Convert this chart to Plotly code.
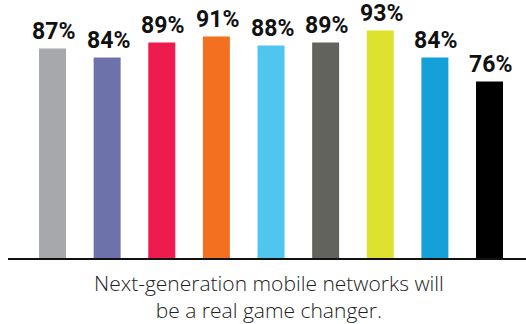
import plotly.graph_objects as go

categories = ["A", "B", "C", "D", "E", "F", "G", "H", "I"]
values = [87, 84, 89, 91, 88, 89, 93, 84, 76]
labels = ["87%", "84%", "89%", "91%", "88%", "89%", "93%", "84%", "76%"]
colors = ["#A7A8AB", "#6E72AA", "#EE1C4E", "#F37021", "#4FC6F0",
          "#63635D", "#DEE12E", "#15A0DA", "#000000"]
caption_lines = ["Next-generation mobile networks will", "be a real game changer."]

fig = go.Figure()
fig.add_trace(go.Bar(
    x=categories, y=values, marker=dict(color=colors, line=dict(width=0)),
    width=0.494, hoverinfo="skip",
))

for c, v, t in zip(categories, values, labels):
    fig.add_annotation(x=c, y=v, text=t, showarrow=False, yanchor="bottom",
                       yshift=2, xshift=1,
                       font=dict(family="Roboto", size=23, color="#111111", weight="bold"))

fig.add_annotation(xref="paper", yref="paper", x=0.504, y=0, yanchor="middle",
                   yshift=-38.5, text="<br>".join(caption_lines), showarrow=False,
                   align="center",
                   font=dict(family="Open Sans", size=21, color="#222222", weight=300))

fig.update_layout(
    width=526, height=324,
    margin=dict(l=8, r=0, t=0, b=66),
    paper_bgcolor="white", plot_bgcolor="white",
    showlegend=False,
    xaxis=dict(type="category", range=[-0.815, 8.668], showticklabels=False,
               ticks="", showgrid=False, showline=True, linecolor="#111111",
               linewidth=1.5, zeroline=False),
    yaxis=dict(range=[17.2, 103.2], visible=False, showgrid=False, zeroline=False),
)

fig.write_html("out.html")
